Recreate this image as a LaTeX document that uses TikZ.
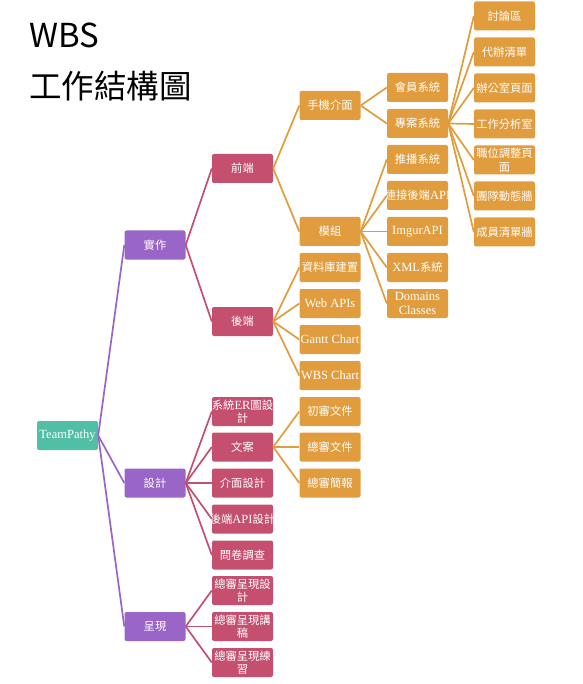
\documentclass[tikz,border=0pt]{standalone}
\usepackage{fontspec}
\setmainfont{Noto Sans CJK TC}
\newfontfamily\latfont{Liberation Serif}
\newcommand\lat[1]{{\latfont\fontsize{12.5}{13.5}\selectfont #1}}
\newcommand\fitbox[1]{\makebox[58pt][c]{#1}}
\definecolor{cteal}{RGB}{80,191,165}
\definecolor{cpurple}{RGB}{153,102,200}
\definecolor{cred}{RGB}{196,79,111}
\definecolor{corange}{RGB}{224,156,61}
\tikzset{
  box/.style={minimum width=61pt, minimum height=29pt, inner sep=1pt, rounded corners=2pt,
    text=white, font=\fontsize{11.3}{13.5}\selectfont, align=center},
  rootbox/.style={box, fill=cteal},
  pbox/.style={box, fill=cpurple},
  rbox/.style={box, fill=cred},
  obox/.style={box, fill=corange},
  pline/.style={draw=cpurple, line width=1.7pt},
  rline/.style={draw=cred, line width=1.7pt},
  oline/.style={draw=corange, line width=1.7pt},
}
\begin{document}
\begin{tikzpicture}[x=1pt,y=-1pt]
\useasboundingbox (0,0) rectangle (582,684);
\node[anchor=west, font=\fontsize{33}{36}\selectfont, inner sep=0pt] (t1) at (29,35) {WBS};
\node[anchor=west, font=\fontsize{32.5}{36}\selectfont, inner sep=0pt] (t2) at (29,86) {工作結構圖};
% level 0
\node[rootbox] (root) at (67.5,435.5) {\lat{TeamPathy}};
% level 1
\node[pbox] (shizuo) at (155,245) {實作};
\node[pbox] (sheji) at (155,483) {設計};
\node[pbox] (chengxian) at (155,626.5) {呈現};
% level 2
\node[rbox] (qianduan) at (242.5,168.5) {前端};
\node[rbox] (houduan) at (242.5,321.5) {後端};
\node[rbox] (er) at (242.5,411.5) {\fitbox{系統\lat{ER}圖設}\\計};
\node[rbox] (wenan) at (242.5,447) {文案};
\node[rbox] (jiemian) at (242.5,483) {介面設計};
\node[rbox] (hapi) at (242.5,519) {\fitbox{後端\lat{API}設計}};
\node[rbox] (wenjuan) at (242.5,555) {問卷調查};
\node[rbox] (zs1) at (242.5,590.5) {總審呈現設\\計};
\node[rbox] (zs2) at (242.5,626.5) {總審呈現講\\稿};
\node[rbox] (zs3) at (242.5,662.5) {總審呈現練\\習};
% level 3
\node[obox] (shouji) at (330,105.5) {手機介面};
\node[obox] (mozu) at (330,231.5) {模組};
\node[obox] (db) at (330,267.5) {資料庫建置};
\node[obox] (webapi) at (330,303.5) {\lat{Web APIs}};
\node[obox] (gantt) at (330,339.5) {\fitbox{\lat{Gantt Chart}}};
\node[obox] (wbs) at (330,375.5) {\lat{WBS Chart}};
\node[obox] (chushen) at (330,411.5) {初審文件};
\node[obox] (zongwen) at (330,447) {總審文件};
\node[obox] (zongbao) at (330,483) {總審簡報};
% level 4
\node[obox] (huiyuan) at (417.5,87.5) {會員系統};
\node[obox] (zhuanan) at (417.5,123.5) {專案系統};
\node[obox] (tuibo) at (417.5,159.5) {推播系統};
\node[obox] (lianjie) at (417.5,195.5) {\fitbox{連接後端\lat{API}}};
\node[obox] (imgur) at (417.5,231.5) {\lat{ImgurAPI}};
\node[obox] (xml) at (417.5,267.5) {\lat{XML}系統};
\node[obox] (domains) at (417.5,303.5) {\lat{Domains}\\\lat{Classes}};
% level 5
\node[obox] (taolun) at (504.5,16) {討論區};
\node[obox] (daiban) at (504.5,52) {代辦清單};
\node[obox] (bangong) at (504.5,88) {辦公室頁面};
\node[obox] (gongzuo) at (504.5,124) {工作分析室};
\node[obox] (zhiwei) at (504.5,160) {職位調整頁\\面};
\node[obox] (tuandui) at (504.5,196) {團隊動態牆};
\node[obox] (chengyuan) at (504.5,232) {成員清單牆};
% connectors
\foreach \c in {shizuo,sheji,chengxian} \draw[pline] (root.east) -- (\c.west);
\foreach \c in {qianduan,houduan} \draw[rline] (shizuo.east) -- (\c.west);
\foreach \c in {er,wenan,jiemian,hapi,wenjuan} \draw[rline] (sheji.east) -- (\c.west);
\foreach \c in {zs1,zs2,zs3} \draw[rline] (chengxian.east) -- (\c.west);
\foreach \c in {shouji,mozu} \draw[oline] (qianduan.east) -- (\c.west);
\foreach \c in {db,webapi,gantt,wbs} \draw[oline] (houduan.east) -- (\c.west);
\foreach \c in {chushen,zongwen,zongbao} \draw[oline] (wenan.east) -- (\c.west);
\foreach \c in {huiyuan,zhuanan} \draw[oline] (shouji.east) -- (\c.west);
\foreach \c in {tuibo,lianjie,imgur,xml,domains} \draw[oline] (mozu.east) -- (\c.west);
\foreach \c in {taolun,daiban,bangong,gongzuo,zhiwei,tuandui,chengyuan} \draw[oline] (zhuanan.east) -- (\c.west);
\end{tikzpicture}
\end{document}
